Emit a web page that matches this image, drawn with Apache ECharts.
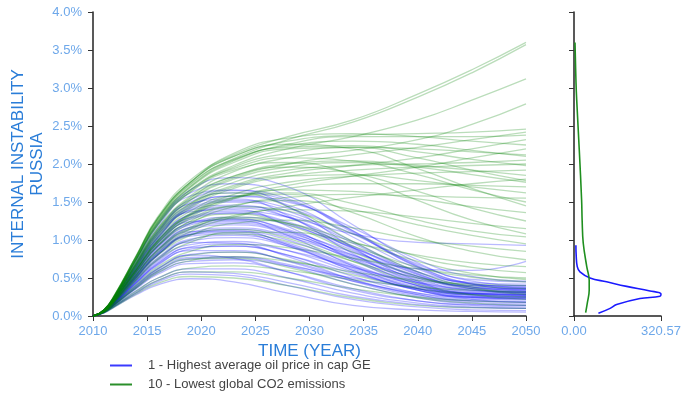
<!DOCTYPE html>
<html>
<head>
<meta charset="utf-8">
<script src="https://cdn.jsdelivr.net/npm/echarts@6/dist/echarts.min.js"></script>
<style>
  html, body { margin: 0; padding: 0; background: #fff; }
  #chart { width: 682px; height: 395px; }
</style>
</head>
<body>
<div id="chart"></div>
<script>
// sample years for every run (values in %)
const YEARS = [2010, 2011, 2012, 2014, 2016, 2019, 2023, 2028, 2034, 2040, 2045, 2050];

// 1 - Highest average oil price in cap GE
const BLUE_RUNS = [
  [0,0.04,0.12,0.28,0.41,0.49,0.45,0.30,0.14,0.08,0.06,0.05],
  [0,0.04,0.13,0.30,0.45,0.55,0.53,0.40,0.22,0.12,0.08,0.07],
  [0,0.045,0.14,0.33,0.50,0.62,0.62,0.50,0.30,0.17,0.12,0.10],
  [0,0.05,0.15,0.36,0.55,0.69,0.70,0.58,0.36,0.20,0.14,0.12],
  [0,0.05,0.15,0.38,0.59,0.75,0.77,0.66,0.42,0.24,0.16,0.14],
  [0,0.05,0.16,0.41,0.63,0.81,0.84,0.73,0.48,0.28,0.20,0.18],
  [0,0.05,0.17,0.44,0.68,0.88,0.92,0.80,0.52,0.30,0.22,0.21],
  [0,0.055,0.17,0.46,0.72,0.94,0.98,0.86,0.58,0.34,0.25,0.24],
  [0,0.055,0.18,0.49,0.77,1.01,1.06,0.94,0.64,0.38,0.28,0.27],
  [0,0.06,0.19,0.51,0.81,1.07,1.12,1.00,0.68,0.40,0.30,0.30],
  [0,0.06,0.20,0.54,0.86,1.14,1.20,1.08,0.74,0.44,0.32,0.31],
  [0,0.06,0.21,0.56,0.90,1.20,1.27,1.14,0.80,0.48,0.34,0.32],
  [0,0.065,0.22,0.59,0.95,1.27,1.35,1.22,0.86,0.52,0.36,0.33],
  [0,0.065,0.22,0.61,0.99,1.33,1.42,1.30,0.92,0.55,0.38,0.34],
  [0,0.07,0.23,0.64,1.04,1.40,1.50,1.38,0.98,0.58,0.40,0.36],
  [0,0.07,0.24,0.67,1.08,1.46,1.57,1.46,1.04,0.62,0.42,0.37],
  [0,0.07,0.25,0.70,1.13,1.53,1.65,1.54,1.10,0.65,0.43,0.38],
  [0,0.075,0.26,0.75,1.22,1.66,1.82,1.70,1.20,0.70,0.46,0.40],
  [0,0.05,0.16,0.40,0.62,0.80,0.76,0.58,0.34,0.20,0.15,0.14],
  [0,0.055,0.18,0.47,0.74,0.97,0.96,0.78,0.48,0.28,0.20,0.19],
  [0,0.06,0.20,0.53,0.84,1.11,1.12,0.94,0.60,0.34,0.24,0.22],
  [0,0.065,0.21,0.58,0.93,1.24,1.26,1.06,0.66,0.36,0.25,0.23],
  [0,0.07,0.23,0.63,1.02,1.37,1.40,1.18,0.74,0.40,0.27,0.25],
  [0,0.07,0.24,0.68,1.10,1.48,1.54,1.32,0.82,0.44,0.29,0.26],
  [0,0.075,0.25,0.72,1.17,1.58,1.66,1.44,0.90,0.46,0.30,0.28],
  [0,0.05,0.15,0.37,0.57,0.72,0.74,0.66,0.50,0.36,0.30,0.30],
  [0,0.055,0.17,0.45,0.70,0.91,0.95,0.86,0.64,0.44,0.36,0.35],
  [0,0.06,0.19,0.52,0.82,1.08,1.14,1.04,0.76,0.50,0.40,0.40],
  [0,0.065,0.21,0.57,0.91,1.22,1.30,1.20,0.90,0.58,0.44,0.42],
  [0,0.07,0.23,0.65,1.05,1.42,1.52,1.42,1.08,0.68,0.48,0.45],
  [0,0.065,0.22,0.60,0.97,1.30,1.38,1.30,1.08,0.97,0.95,0.93],
  [0,0.06,0.20,0.55,0.88,1.17,1.24,1.12,0.84,0.62,0.60,0.72],
  [0,0.045,0.13,0.31,0.47,0.58,0.56,0.44,0.26,0.15,0.11,0.10],
  [0,0.05,0.15,0.39,0.60,0.77,0.78,0.68,0.46,0.30,0.24,0.23],
  [0,0.055,0.18,0.48,0.75,0.99,1.03,0.92,0.62,0.36,0.26,0.25],
  [0,0.06,0.20,0.55,0.87,1.16,1.22,1.10,0.78,0.46,0.33,0.32],
  [0,0.07,0.23,0.62,1.00,1.34,1.44,1.34,0.96,0.56,0.38,0.36],
  [0,0.075,0.26,0.74,1.20,1.62,1.74,1.58,1.12,0.64,0.42,0.38],
  [0,0.055,0.17,0.43,0.67,0.86,0.86,0.72,0.46,0.26,0.18,0.16],
  [0,0.065,0.21,0.58,0.92,1.22,1.28,1.12,0.76,0.42,0.30,0.28],
  [0,0.07,0.24,0.66,1.07,1.44,1.58,1.50,1.16,0.74,0.52,0.46],
  [0,0.06,0.19,0.50,0.80,1.05,1.08,0.92,0.60,0.34,0.22,0.18],
  [0,0.06,0.20,0.52,0.83,1.10,1.16,1.06,0.80,0.52,0.38,0.33],
  [0,0.065,0.22,0.60,0.96,1.29,1.36,1.24,0.90,0.54,0.36,0.31],
  [0,0.07,0.24,0.69,1.11,1.50,1.62,1.52,1.12,0.66,0.42,0.35],
  [0,0.055,0.17,0.44,0.69,0.90,0.92,0.80,0.56,0.36,0.28,0.27],
  [0,0.06,0.19,0.51,0.81,1.07,1.10,0.96,0.66,0.40,0.29,0.28],
  [0,0.07,0.23,0.64,1.03,1.39,1.46,1.30,0.88,0.50,0.34,0.30]
];

// 10 - Lowest global CO2 emissions
const GREEN_RUNS = [
  [0,0.08,0.28,0.80,1.31,1.79,2.12,2.36,2.58,2.92,3.24,3.60],
  [0,0.075,0.27,0.78,1.27,1.74,2.07,2.32,2.55,2.88,3.20,3.57],
  [0,0.075,0.26,0.75,1.22,1.66,1.98,2.20,2.36,2.58,2.84,3.12],
  [0,0.07,0.25,0.72,1.16,1.58,1.90,2.08,2.18,2.32,2.52,2.79],
  [0,0.08,0.27,0.79,1.29,1.76,2.10,2.30,2.38,2.40,2.42,2.46],
  [0,0.07,0.25,0.70,1.13,1.53,1.82,2.00,2.12,2.22,2.32,2.42],
  [0,0.075,0.26,0.76,1.24,1.70,2.04,2.26,2.36,2.36,2.36,2.38],
  [0,0.07,0.24,0.67,1.08,1.46,1.72,1.88,1.98,2.08,2.20,2.32],
  [0,0.08,0.28,0.79,1.29,1.76,2.14,2.34,2.40,2.36,2.30,2.25],
  [0,0.065,0.22,0.61,0.99,1.33,1.56,1.72,1.84,1.96,2.08,2.20],
  [0,0.075,0.26,0.74,1.20,1.64,1.96,2.14,2.22,2.20,2.16,2.12],
  [0,0.07,0.24,0.68,1.10,1.48,1.76,1.92,1.98,2.00,2.02,2.05],
  [0,0.08,0.27,0.78,1.27,1.73,2.06,2.22,2.24,2.16,2.06,1.98],
  [0,0.065,0.22,0.62,1.00,1.35,1.60,1.76,1.84,1.88,1.90,1.92],
  [0,0.07,0.25,0.70,1.14,1.55,1.84,2.00,2.04,1.98,1.92,1.85],
  [0,0.075,0.26,0.76,1.24,1.69,2.02,2.20,2.22,2.08,1.92,1.78],
  [0,0.065,0.22,0.60,0.97,1.30,1.54,1.68,1.74,1.74,1.72,1.70],
  [0,0.07,0.24,0.66,1.07,1.44,1.70,1.84,1.86,1.78,1.70,1.62],
  [0,0.06,0.21,0.57,0.92,1.22,1.44,1.56,1.60,1.58,1.56,1.55],
  [0,0.08,0.28,0.79,1.29,1.76,2.10,2.26,2.20,1.94,1.68,1.45],
  [0,0.065,0.22,0.61,0.98,1.32,1.55,1.66,1.64,1.54,1.44,1.36],
  [0,0.07,0.25,0.71,1.15,1.56,1.84,1.96,1.88,1.64,1.42,1.25],
  [0,0.06,0.20,0.54,0.86,1.14,1.32,1.40,1.38,1.30,1.22,1.15],
  [0,0.075,0.26,0.74,1.20,1.63,1.92,2.02,1.86,1.52,1.26,1.08],
  [0,0.065,0.21,0.58,0.93,1.25,1.46,1.52,1.40,1.20,1.06,0.95],
  [0,0.06,0.19,0.50,0.80,1.06,1.22,1.26,1.16,1.00,0.92,0.85],
  [0,0.07,0.23,0.64,1.03,1.38,1.58,1.60,1.36,1.04,0.85,0.74],
  [0,0.055,0.18,0.47,0.74,0.97,1.10,1.10,0.96,0.80,0.70,0.65],
  [0,0.065,0.22,0.60,0.96,1.28,1.44,1.38,1.08,0.78,0.64,0.57],
  [0,0.05,0.16,0.42,0.65,0.85,0.94,0.90,0.76,0.62,0.54,0.50],
  [0,0.06,0.20,0.55,0.88,1.17,1.30,1.22,0.92,0.64,0.51,0.45],
  [0,0.05,0.15,0.37,0.57,0.73,0.78,0.72,0.58,0.47,0.42,0.40],
  [0,0.055,0.18,0.48,0.76,1.00,1.08,0.98,0.72,0.50,0.40,0.36],
  [0,0.045,0.14,0.33,0.50,0.63,0.66,0.60,0.48,0.38,0.34,0.32],
  [0,0.065,0.21,0.58,0.93,1.24,1.34,1.20,0.84,0.52,0.36,0.28],
  [0,0.05,0.16,0.40,0.62,0.80,0.84,0.74,0.54,0.36,0.28,0.25],
  [0,0.06,0.19,0.51,0.81,1.07,1.14,1.02,0.72,0.42,0.28,0.22],
  [0,0.045,0.13,0.31,0.47,0.58,0.58,0.50,0.36,0.25,0.20,0.18],
  [0,0.05,0.15,0.38,0.59,0.75,0.76,0.64,0.42,0.24,0.17,0.14],
  [0,0.04,0.12,0.29,0.43,0.52,0.50,0.40,0.24,0.14,0.11,0.10],
  [0,0.075,0.26,0.75,1.22,1.66,1.94,2.08,2.04,1.86,1.66,1.50],
  [0,0.07,0.23,0.65,1.05,1.42,1.68,1.84,1.92,1.96,1.98,2.00],
  [0,0.07,0.24,0.68,1.10,1.48,1.62,1.44,0.98,0.58,0.38,0.30],
  [0,0.06,0.20,0.53,0.84,1.11,1.30,1.44,1.56,1.66,1.74,1.80],
  [0,0.075,0.27,0.77,1.25,1.71,2.05,2.24,2.30,2.26,2.18,2.10],
  [0,0.07,0.24,0.69,1.12,1.52,1.80,1.96,2.02,1.96,1.86,1.76],
  [0,0.065,0.22,0.62,1.00,1.34,1.56,1.62,1.48,1.26,1.12,1.04],
  [0,0.06,0.20,0.54,0.87,1.15,1.28,1.22,0.98,0.72,0.56,0.48]
];

// distribution of 2050 values: [density, value in %]
const BLUE_DENSITY = [
  [7,0.93],[8,0.80],[12,0.65],[22,0.58],[59,0.50],[120,0.45],[194,0.39],
  [280,0.33],[320.57,0.29],[317,0.26],[243,0.23],[157,0.15],[133,0.10],[90,0.035]
];
const GREEN_DENSITY = [
  [3.7,3.6],[7.4,3.07],[10,2.84],[19.5,2.18],[28,1.53],[30,1.26],[34,0.96],
  [47,0.65],[56,0.47],[56,0.34],[49,0.17],[43,0.045]
];
const DENSITY_MAX = 320.57;

const BLUE_NAME = '1 - Highest average oil price in cap GE';
const GREEN_NAME = '10 - Lowest global CO2 emissions';

const FONT = 'Liberation Sans';
const TICK_BLUE = '#6ea8ea';
const NAME_BLUE = '#2a7dd8';

let myChart = echarts.init(document.getElementById('chart'));

function runSeries(runs, color, opacity, prefix) {
    return runs.map(function (run, k) {
        return {
            name: prefix + k,
            type: 'line',
            xAxisIndex: 0,
            yAxisIndex: 0,
            smooth: 0.5,
            symbol: 'none',
            silent: true,
            lineStyle: { color: color, width: 1.3, opacity: opacity },
            data: run.map(function (v, i) { return [YEARS[i], v]; })
        };
    });
}

function legendItem(name, color, top) {
    return {
        orient: 'vertical',
        left: 105,
        top: top,
        itemWidth: 22,
        itemHeight: 2,
        data: [{ name: name, icon: 'rect', itemStyle: { color: color } }],
        textStyle: { color: '#444', fontSize: 13, fontFamily: FONT, padding: [0, 0, 0, 11] }
    };
}

const axisLine = { show: true, onZero: false, lineStyle: { color: '#222', width: 1.5 } };
const axisTick = { show: true, length: 5, lineStyle: { color: '#333', width: 1 } };

let option = {
    animation: false,
    grid: [
        { left: 93, right: 156, top: 12, bottom: 79, containLabel: false, outerBoundsMode: 'none' },
        { left: 574, right: 21, top: 12, bottom: 79, containLabel: false, outerBoundsMode: 'none' }
    ],
    legend: [
        legendItem(BLUE_NAME, '#3a3aff', 354),
        legendItem(GREEN_NAME, '#2a8f2a', 373)
    ],
    xAxis: [
        {
            gridIndex: 0,
            type: 'value',
            min: 2010,
            max: 2050,
            interval: 5,
            name: 'TIME (YEAR)',
            nameLocation: 'middle',
            nameGap: 27,
            nameMoveOverlap: false,
            nameTextStyle: { color: NAME_BLUE, fontSize: 17, fontFamily: FONT },
            axisLine: axisLine,
            axisTick: axisTick,
            splitLine: { show: false },
            axisLabel: {
                color: TICK_BLUE, fontSize: 13, fontFamily: FONT, margin: 9,
                formatter: function (v) { return String(v); }
            }
        },
        {
            gridIndex: 1,
            type: 'value',
            min: 0,
            max: DENSITY_MAX,
            interval: DENSITY_MAX,
            axisLine: axisLine,
            axisTick: axisTick,
            splitLine: { show: false },
            axisLabel: {
                color: TICK_BLUE, fontSize: 13, fontFamily: FONT, margin: 9,
                showMinLabel: true, showMaxLabel: true,
                formatter: function (v) { return v.toFixed(2); }
            }
        }
    ],
    yAxis: [
        {
            gridIndex: 0,
            type: 'value',
            min: 0,
            max: 4,
            interval: 0.5,
            name: 'INTERNAL INSTABILITY\nRUSSIA',
            nameLocation: 'middle',
            nameRotate: 90,
            nameGap: 46,
            nameMoveOverlap: false,
            nameTextStyle: { color: NAME_BLUE, fontSize: 17, fontFamily: FONT, lineHeight: 19, align: 'center' },
            axisLine: axisLine,
            axisTick: axisTick,
            splitLine: { show: false },
            axisLabel: {
                color: TICK_BLUE, fontSize: 13, fontFamily: FONT, margin: 11,
                formatter: function (v) { return v.toFixed(1) + '%'; }
            }
        },
        {
            gridIndex: 1,
            type: 'value',
            min: 0,
            max: 4,
            interval: 0.5,
            axisLine: axisLine,
            axisTick: axisTick,
            splitLine: { show: false },
            axisLabel: { show: false }
        }
    ],
    series: runSeries(BLUE_RUNS, '#0000ff', 0.27, 'blue-')
        .concat(runSeries(GREEN_RUNS, '#008000', 0.27, 'green-'))
        .concat([
            {
                name: BLUE_NAME,
                type: 'line',
                xAxisIndex: 1,
                yAxisIndex: 1,
                smooth: 0.4,
                symbol: 'none',
                color: '#1a1aff',
                lineStyle: { color: '#1a1aff', width: 1.6 },
                data: BLUE_DENSITY
            },
            {
                name: GREEN_NAME,
                type: 'line',
                xAxisIndex: 1,
                yAxisIndex: 1,
                smooth: 0.4,
                symbol: 'none',
                color: '#1f8f1f',
                lineStyle: { color: '#1f8f1f', width: 1.6 },
                data: GREEN_DENSITY
            }
        ])
};

option && myChart.setOption(option);
</script>
</body>
</html>
